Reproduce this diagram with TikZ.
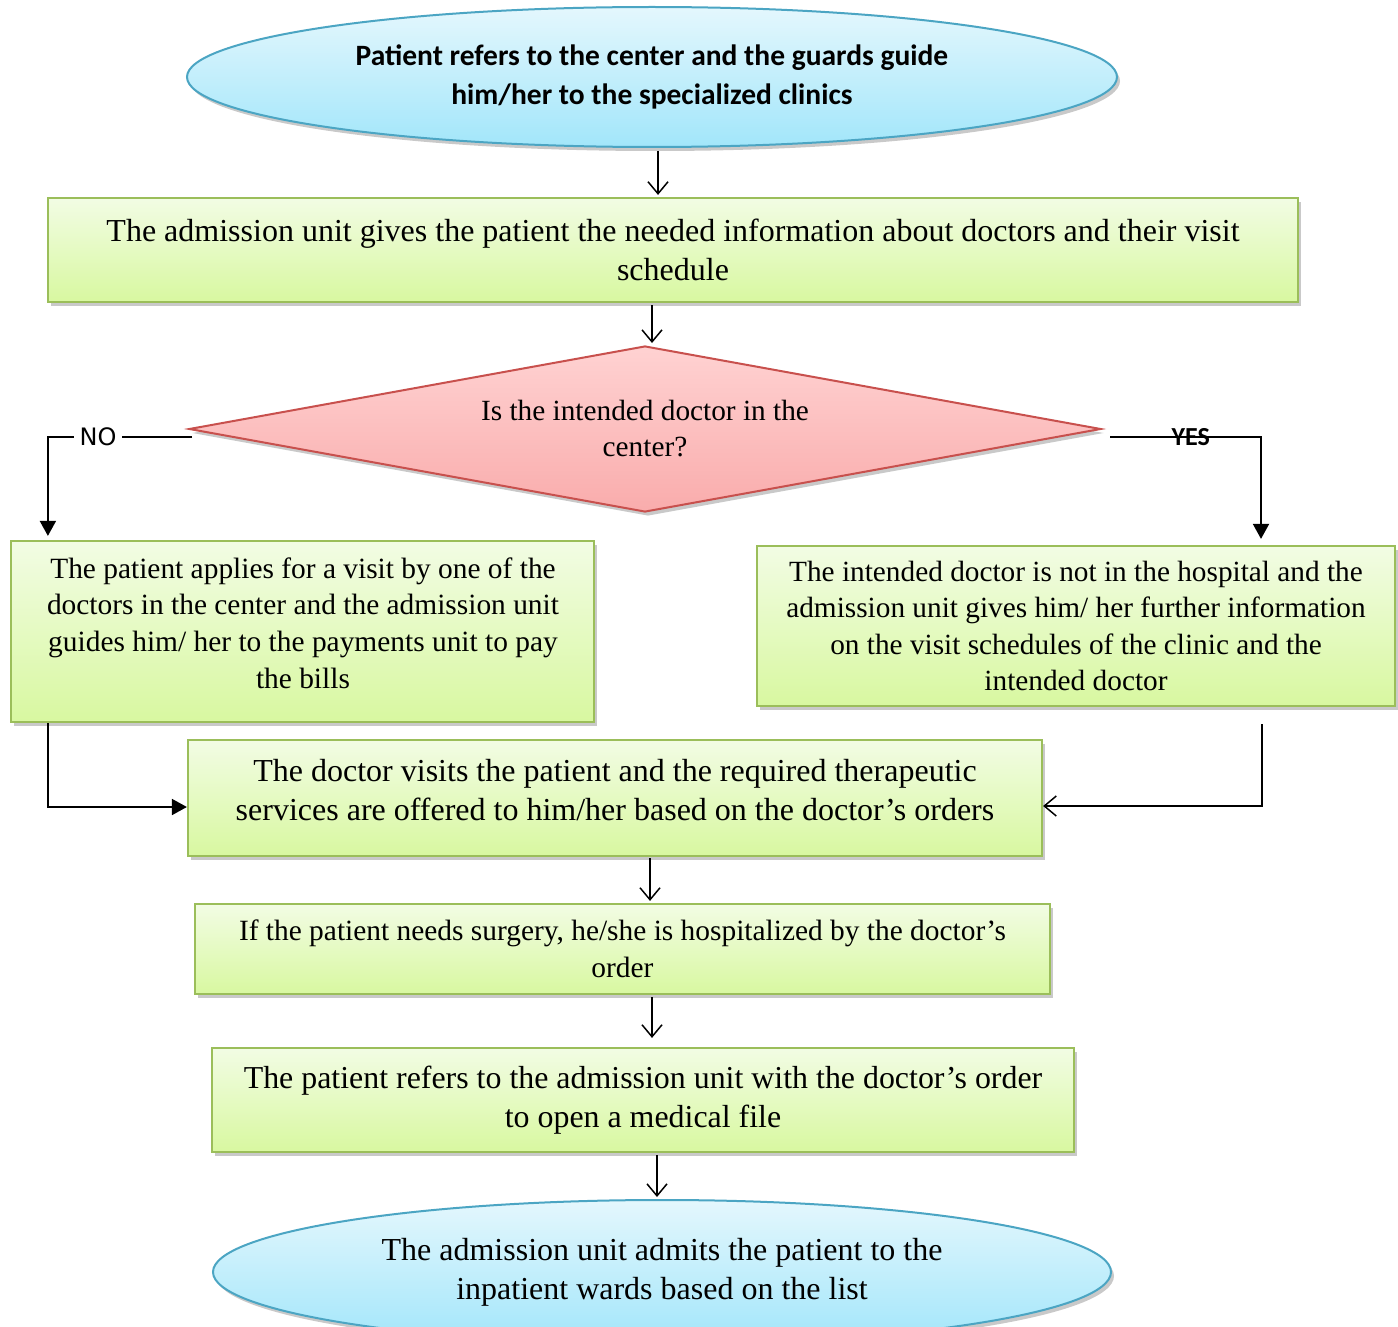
\documentclass[tikz,border=0pt]{standalone}
\usepackage{fontspec}
\setmainfont{Liberation Serif}
\newfontfamily\calib{Carlito}
\newfontfamily\dvsans{DejaVu Sans}
\usetikzlibrary{shapes.geometric,arrows.meta,shadows}
\definecolor{boxtop}{RGB}{242,252,228}
\definecolor{boxbot}{RGB}{216,248,160}
\definecolor{boxline}{RGB}{155,190,90}
\definecolor{elltop}{RGB}{228,247,253}
\definecolor{ellbot}{RGB}{162,230,250}
\definecolor{ellline}{RGB}{75,165,195}
\definecolor{diatop}{RGB}{255,210,210}
\definecolor{diabot}{RGB}{249,172,172}
\definecolor{dialine}{RGB}{200,80,77}
\begin{document}
\begin{tikzpicture}[x=1pt,y=-1pt,
  shad/.style={drop shadow={shadow xshift=3pt,shadow yshift=-4pt,opacity=0.3,fill=black!70}},
  gbox/.style={rectangle,draw=boxline,line width=2.2pt,top color=boxtop,bottom color=boxbot,shad,align=center,inner sep=0pt},
  ell/.style={ellipse,draw=ellline,line width=2pt,top color=elltop,bottom color=ellbot,shad,align=center,inner sep=0pt},
  dia/.style={diamond,draw=dialine,line width=2pt,top color=diatop,bottom color=diabot,shad,align=center,inner sep=0pt,shape aspect=5.5},
  txt/.style={align=center,inner sep=0pt},
  openarr/.style={line width=1.5pt,-{Straight Barb[length=12pt,width=20pt,line width=1.5pt]}},
  filledarr/.style={line width=1.8pt,-{Triangle[length=15pt,width=16pt]}}
]
\useasboundingbox (0,0) rectangle (1398,1327);

\node[ell,minimum width=930,minimum height=140,font=\calib\bfseries\fontsize{29.5}{39}\selectfont] (e1) at (652,77)
  {Patient refers to the center and the guards guide\\him/her to the specialized clinics};

\node[gbox,minimum width=1250,minimum height=104,font=\fontsize{32}{39}\selectfont] (b1) at (673,250)
  {The admission unit gives the patient the needed information about doctors and their visit\\schedule};

\node[dia,minimum width=912,minimum height=166,font=\fontsize{29.3}{36}\selectfont] (d) at (645,429)
  {Is the intended doctor in the\\center?};

\node[gbox,minimum width=583,minimum height=181] (lb) at (302.5,631.5) {};
\node[txt,font=\fontsize{29.4}{36.7}\selectfont] (lbt) at (303,623)
  {The patient applies for a visit by one of the\\doctors in the center and the admission unit\\guides him/ her to the payments unit to pay\\the bills};

\node[gbox,minimum width=638,minimum height=160,font=\fontsize{29.3}{36.5}\selectfont] (rb) at (1076,626)
  {The intended doctor is not in the hospital and the\\admission unit gives him/ her further information\\on the visit schedules of the clinic and the\\intended doctor};

\node[gbox,minimum width=854,minimum height=116] (mb) at (615,798) {};
\node[txt,font=\fontsize{32}{39}\selectfont] (mbt) at (615,790)
  {The doctor visits the patient and the required therapeutic\\services are offered to him/her based on the doctor’s orders};

\node[gbox,minimum width=855,minimum height=90,font=\fontsize{29.4}{37}\selectfont] (sb) at (622.5,949)
  {If the patient needs surgery, he/she is hospitalized by the doctor’s\\order};

\node[gbox,minimum width=862,minimum height=104,font=\fontsize{31.9}{39}\selectfont] (rf) at (643,1100)
  {The patient refers to the admission unit with the doctor’s order\\to open a medical file};

\node[ell,minimum width=898,minimum height=144,font=\fontsize{32}{39}\selectfont] (e2) at (662,1272)
  {The admission unit admits the patient to the\\inpatient wards based on the list};

% connectors
\draw[openarr] ([xshift=6,yshift=-3]e1.south) -- ([xshift=6,yshift=2]e1.south |- b1.north);
\draw[openarr] ([xshift=7,yshift=-2]d.north |- b1.south) -- ([xshift=7,yshift=2]d.north);

\draw[filledarr] ([xshift=4,yshift=-8]d.west) -| node[pos=0.326,fill=white,inner sep=6pt,font=\dvsans\fontsize{24}{28}\selectfont]{NO} ([xshift=38,yshift=4]lb.north west);

\draw[filledarr] ([xshift=8,yshift=-8]d.east) -| node[pos=0.267,font=\calib\bfseries\fontsize{26}{30}\selectfont]{YES} ([xshift=185,yshift=6]rb.north);

\draw[filledarr] ([xshift=38]lb.south west) |- ([yshift=-9]mb.west);
\draw[openarr] ([xshift=186,yshift=-17]rb.south) |- ([yshift=-8]mb.east);

\draw[openarr] ([xshift=35,yshift=-1]mb.south) -- ([xshift=35,yshift=2]mb.south |- sb.north);
\draw[openarr] ([xshift=29.5,yshift=-2]sb.south) -- ([xshift=29.5,yshift=9]sb.south |- rf.north);
\draw[openarr] ([xshift=14,yshift=-2]rf.south) -- ([xshift=14,yshift=2]rf.south |- e2.north);
\end{tikzpicture}
\end{document}
